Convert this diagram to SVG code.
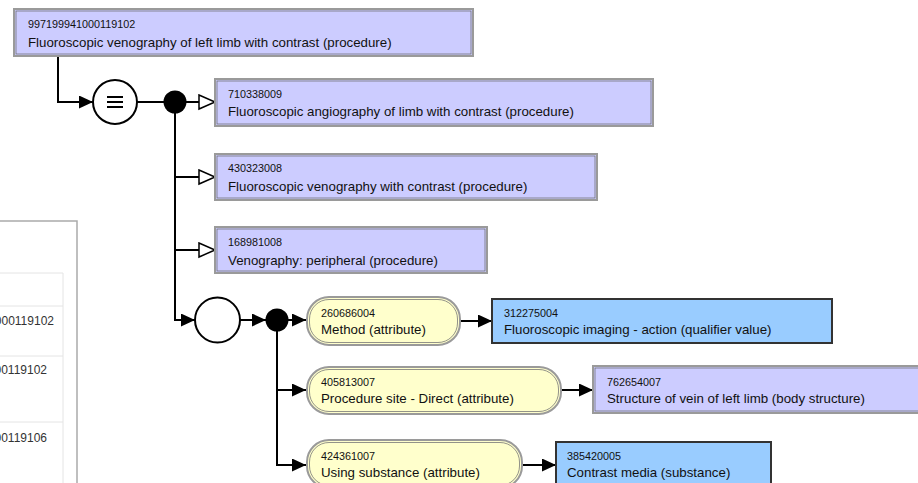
<svg xmlns="http://www.w3.org/2000/svg" width="918" height="483" viewBox="0 0 918 483">
<style>
text{font-family:"Liberation Sans",Arial,Helvetica,sans-serif;fill:#111}
.id{font-size:10.8px}
.lb{font-size:13.3px}
.def{fill:#ccccff;stroke:#9a9a9a;stroke-width:2}
.defin{fill:none;stroke:#666;stroke-width:0.7}
.prim{fill:#99ccff;stroke:#333;stroke-width:2}
.attr{fill:#ffffcc;stroke:#9a9a9a;stroke-width:2}
.attrin{fill:none;stroke:#777;stroke-width:0.8}
.con{fill:none;stroke:#000;stroke-width:2}
.tbl{stroke:#e4e4e4;stroke-width:1;fill:none}
.tt{font-size:12px;fill:#333}
</style>
<defs>
<marker id="fa" markerUnits="userSpaceOnUse" markerWidth="16" markerHeight="15" refX="14" refY="6.5" orient="auto" viewBox="0 0 16 15">
<path d="M0,0 L14,6.5 L0,13 z" fill="#000"/>
</marker>
<marker id="oa" markerUnits="userSpaceOnUse" markerWidth="20" markerHeight="18" refX="17" refY="8" orient="auto" viewBox="0 0 20 18">
<path d="M1,1 L17,8 L1,15 z" fill="#fff" stroke="#000" stroke-width="1.5"/>
</marker>
</defs>
<rect width="918" height="483" fill="#fff"/>

<g id="side-panel">
<rect x="-10" y="221" width="87" height="290" fill="#fff" stroke="#aaa" stroke-width="1.5"/>
<path class="tbl" d="M-10,273 H63 V490 M-10,306 H63 M-10,356 H63 M-10,422 H63"/>
<text class="tt" x="54" y="325" text-anchor="end">000119102</text>
<text class="tt" x="47" y="374" text-anchor="end">00119102</text>
<text class="tt" x="47" y="442" text-anchor="end">00119106</text>
</g>

<g id="connectors">
<path class="con" d="M58,56 V102 H93" marker-end="url(#fa)"/>
<path class="con" d="M137,102 H164"/>
<path class="con" d="M186,102 H215" marker-end="url(#oa)"/>
<path class="con" d="M175,112 V320 H195" marker-end="url(#fa)"/>
<path class="con" d="M175,177 H215" marker-end="url(#oa)"/>
<path class="con" d="M175,250 H215" marker-end="url(#oa)"/>
<path class="con" d="M240,320 H266" marker-end="url(#fa)"/>
<path class="con" d="M288,320 H306" marker-end="url(#fa)"/>
<path class="con" d="M277,331 V465 H306" marker-end="url(#fa)"/>
<path class="con" d="M277,390 H306" marker-end="url(#fa)"/>
<path class="con" d="M460,321 H492" marker-end="url(#fa)"/>
<path class="con" d="M561,390 H593" marker-end="url(#fa)"/>
<path class="con" d="M522,465 H556" marker-end="url(#fa)"/>
</g>

<g id="n-997199941000119102">
<rect class="def" x="14" y="9" width="459" height="47"/>
<rect class="defin" x="16" y="11" width="455" height="43"/>
<text class="id" x="28" y="27.5">997199941000119102</text>
<text class="lb" x="28" y="46.5">Fluoroscopic venography of left limb with contrast (procedure)</text>
</g>

<g id="equivalence">
<circle cx="115" cy="102" r="22" fill="#fff" stroke="#000" stroke-width="2"/>
<path d="M107,97 H123 M107,102 H123 M107,107 H123" stroke="#000" stroke-width="2" fill="none"/>
</g>

<g id="conjunction-1">
<circle cx="175" cy="102" r="11.5" fill="#000"/>
</g>

<g id="n-710338009">
<rect class="def" x="215" y="79" width="438" height="47"/>
<rect class="defin" x="217" y="81" width="434" height="43"/>
<text class="id" x="228" y="97.5">710338009</text>
<text class="lb" x="228" y="116">Fluoroscopic angiography of limb with contrast (procedure)</text>
</g>

<g id="n-430323008">
<rect class="def" x="215" y="154" width="382" height="46"/>
<rect class="defin" x="217" y="156" width="378" height="42"/>
<text class="id" x="228" y="172">430323008</text>
<text class="lb" x="228" y="190.5">Fluoroscopic venography with contrast (procedure)</text>
</g>

<g id="n-168981008">
<rect class="def" x="215" y="227" width="272" height="46"/>
<rect class="defin" x="217" y="229" width="268" height="42"/>
<text class="id" x="228" y="245.5">168981008</text>
<text class="lb" x="228" y="264.5">Venography: peripheral (procedure)</text>
</g>

<g id="attribute-group">
<circle cx="217.5" cy="320" r="22.5" fill="#fff" stroke="#000" stroke-width="2"/>
</g>

<g id="conjunction-2">
<circle cx="277" cy="320" r="11.5" fill="#000"/>
</g>

<g id="a-260686004">
<rect class="attr" x="307" y="297" width="153" height="48" rx="22" ry="22"/>
<rect class="attrin" x="309.5" y="299.5" width="148" height="43" rx="19.5" ry="19.5"/>
<text class="id" x="321" y="317">260686004</text>
<text class="lb" x="321" y="333.5">Method (attribute)</text>
</g>

<g id="v-312275004">
<rect class="prim" x="492" y="299" width="340" height="44"/>
<text class="id" x="504" y="317">312275004</text>
<text class="lb" x="504" y="333.5">Fluoroscopic imaging - action (qualifier value)</text>
</g>

<g id="a-405813007">
<rect class="attr" x="307" y="367" width="254" height="47" rx="22" ry="22"/>
<rect class="attrin" x="309.5" y="369.5" width="249" height="42" rx="19.5" ry="19.5"/>
<text class="id" x="321" y="386">405813007</text>
<text class="lb" x="321" y="402.5">Procedure site - Direct (attribute)</text>
</g>

<g id="v-762654007">
<rect class="def" x="593" y="366" width="345" height="47"/>
<rect class="defin" x="595" y="368" width="341" height="43"/>
<text class="id" x="607" y="385.5">762654007</text>
<text class="lb" x="607" y="403">Structure of vein of left limb (body structure)</text>
</g>

<g id="a-424361007">
<rect class="attr" x="307" y="440" width="215" height="48" rx="22" ry="22"/>
<rect class="attrin" x="309.5" y="442.5" width="210" height="43" rx="19.5" ry="19.5"/>
<text class="id" x="321" y="460">424361007</text>
<text class="lb" x="321" y="476.5">Using substance (attribute)</text>
</g>

<g id="v-385420005">
<rect class="prim" x="556" y="442" width="215" height="46"/>
<text class="id" x="567" y="460">385420005</text>
<text class="lb" x="567" y="476.5">Contrast media (substance)</text>
</g>
</svg>
